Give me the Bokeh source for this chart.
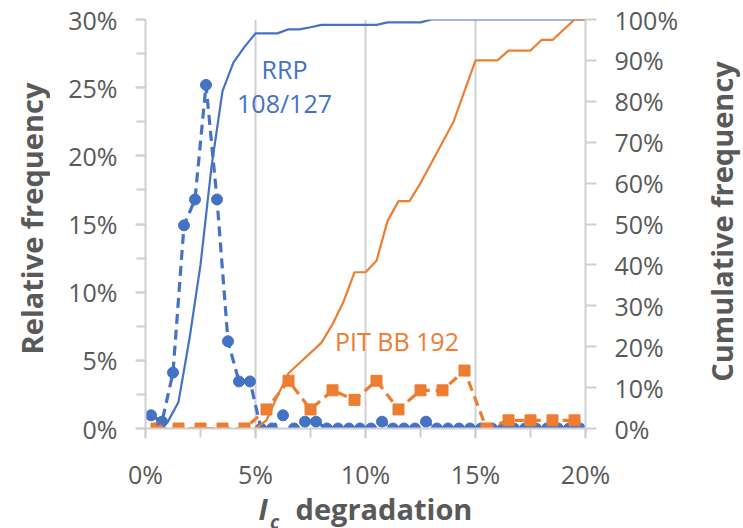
import math

from bokeh.plotting import figure
from bokeh.layouts import row, column
from bokeh.models import Range1d, LinearAxis, SingleIntervalTicker, PrintfTickFormatter
from bokeh.embed import file_html
from bokeh.resources import INLINE
from bokeh.core.properties import value

# ---- data (percent units) ----
# RRP: relative frequency per 0.5 % bin (bin centres)
rrp_x = [0.25, 0.75, 1.25, 1.75, 2.25, 2.75, 3.25, 3.75, 4.25, 4.75,
         5.25, 5.75, 6.25, 6.75, 7.25, 7.75, 8.25, 8.75, 9.25, 9.75,
         10.25, 10.75, 11.25, 11.75, 12.25, 12.75, 13.25, 13.75, 14.25, 14.75,
         15.25, 15.75, 16.25, 16.75, 17.25, 17.75, 18.25, 18.75, 19.25, 19.75]
rrp_freq = [0.97, 0.5, 4.1, 14.9, 16.8, 25.2, 16.8, 6.4, 3.45, 3.45,
            0, 0, 0.97, 0, 0.5, 0.5, 0, 0, 0, 0,
            0, 0.5, 0, 0, 0, 0.5, 0, 0, 0, 0,
            0, 0, 0, 0, 0, 0, 0, 0, 0, 0]

# RRP: cumulative frequency at bin edges
rrp_cum_x = [0.5, 1.0, 1.5, 2.0, 2.5, 3.0, 3.5, 4.0, 4.5, 5.0,
             5.5, 6.0, 6.5, 7.0, 7.5, 8.0, 8.5, 9.0, 9.5, 10.0,
             10.5, 11.0, 11.5, 12.0, 12.5, 13.0, 13.5, 14.0, 14.5, 15.0,
             15.5, 16.0, 16.5, 17.0, 17.5, 18.0, 18.5, 19.0, 19.5, 20.0]
rrp_cum = [1.0, 1.5, 6.5, 22.0, 40.0, 64.0, 82.5, 89.5, 93.3, 96.6,
           96.6, 96.6, 97.6, 97.6, 98.1, 98.7, 98.7, 98.7, 98.7, 98.7,
           98.7, 99.3, 99.3, 99.3, 99.3, 100, 100, 100, 100, 100,
           100, 100, 100, 100, 100, 100, 100, 100, 100, 100]

# PIT BB: relative frequency per 1 % bin
pit_x = [0.5, 1.5, 2.5, 3.5, 4.5, 5.5, 6.5, 7.5, 8.5, 9.5,
         10.5, 11.5, 12.5, 13.5, 14.5, 15.5, 16.5, 17.5, 18.5, 19.5]
pit_freq = [0, 0, 0, 0, 0, 1.4, 3.5, 1.4, 2.8, 2.1,
            3.5, 1.4, 2.8, 2.8, 4.25, 0, 0.6, 0.6, 0.6, 0.6]

# PIT BB: cumulative frequency
pit_cum_x = [5.0, 5.5, 6.0, 6.5, 7.0, 7.5, 8.0, 8.5, 9.0, 9.5,
             10.0, 10.5, 11.0, 11.5, 12.0, 12.5, 13.0, 13.5, 14.0, 14.5,
             15.0, 15.5, 16.0, 16.5, 17.0, 17.5, 18.0, 18.5, 19.0, 19.5, 20.0]
pit_cum = [0, 2.0, 8.0, 13.5, 16.0, 18.5, 21.0, 25.5, 31.0, 38.2,
           38.2, 41.0, 50.7, 55.6, 55.6, 60.0, 65.0, 70.0, 75.0, 82.5,
           90.0, 90.0, 90.0, 92.4, 92.4, 92.4, 95.0, 95.0, 97.5, 100, 100]

BLUE = "#4472C4"
ORANGE = "#ED7D31"
GREY_TXT = "#595959"
GREY_LINE = "#D0D0D0"
FONT = "Open Sans"
TITLE_SIZE = "29px"

TOTAL_W, TOTAL_H = 743, 528
LEFT_W, RIGHT_W, BOTTOM_H = 50, 43, 33
MAIN_W = TOTAL_W - LEFT_W - RIGHT_W
MAIN_H = TOTAL_H - BOTTOM_H


def blank(width, height, x_range):
    """A bare canvas without axes or title, used for the axis titles."""
    f = figure(width=width, height=height, output_backend="svg", toolbar_location=None,
               title=None, x_range=x_range, y_range=Range1d(0, height),
               x_axis_type=None, y_axis_type=None, min_border=0)
    f.grid.visible = False
    f.outline_line_color = None
    return f


# ---- main chart ----
p = figure(width=MAIN_W, height=MAIN_H, output_backend="svg", toolbar_location=None,
           title=None, x_range=Range1d(0, 20), y_range=Range1d(0, 30),
           min_border_left=95, min_border_right=115,
           min_border_top=19, min_border_bottom=67)
p.outline_line_color = None
p.extra_y_ranges = {"cum": Range1d(0, 100)}

xax = p.xaxis[0]
xax.ticker = SingleIntervalTicker(interval=5, num_minor_ticks=2)
yax = p.yaxis[0]
yax.ticker = SingleIntervalTicker(interval=5, num_minor_ticks=2)
rax = LinearAxis(y_range_name="cum",
                 ticker=SingleIntervalTicker(interval=10, num_minor_ticks=0))
p.add_layout(rax, "right")

for ax in (xax, yax, rax):
    ax.formatter = PrintfTickFormatter(format="%d%%")
    ax.axis_line_color = GREY_LINE
    ax.axis_line_width = 2
    ax.major_tick_line_color = GREY_LINE
    ax.major_tick_line_width = 2
    ax.minor_tick_line_color = GREY_LINE
    ax.minor_tick_line_width = 2
    ax.major_tick_in = 0
    ax.minor_tick_in = 0
    ax.major_tick_out = 10
    ax.minor_tick_out = 9
    ax.major_label_text_font = FONT
    ax.major_label_text_font_size = "25px"
    ax.major_label_text_color = GREY_TXT
    ax.major_label_standoff = 18
rax.minor_tick_out = 0
rax.major_tick_out = 11

p.xgrid.ticker = SingleIntervalTicker(interval=5)
p.xgrid.grid_line_color = GREY_LINE
p.xgrid.grid_line_width = 2
p.ygrid.grid_line_color = None

# relative frequency series
p.line(rrp_x, rrp_freq, line_color=BLUE, line_width=3.2, line_dash="10 6")
p.scatter(rrp_x, rrp_freq, marker="circle", size=11,
          fill_color=BLUE, line_color=BLUE)
p.line(pit_x, pit_freq, line_color=ORANGE, line_width=3.2, line_dash="10 6")
p.scatter(pit_x, pit_freq, marker="square", size=11,
          fill_color=ORANGE, line_color=ORANGE)

# cumulative series on the secondary axis
p.line(rrp_cum_x, rrp_cum, line_color=BLUE, line_width=2.2, y_range_name="cum")
p.line(pit_cum_x, pit_cum, line_color=ORANGE, line_width=2.2, y_range_name="cum")

# series annotations
p.text(x=[6.32, 6.32], y=[26.4, 23.85], text=["RRP", "108/127"],
       text_color=BLUE, text_font=value(FONT), text_font_size="25px",
       text_align="center", text_baseline="alphabetic")
p.text(x=[11.43], y=[6.4], text=["PIT BB 192"],
       text_color=ORANGE, text_font=value(FONT), text_font_size="25px",
       text_align="center", text_baseline="alphabetic")

# ---- axis titles ----
left = blank(LEFT_W, TOTAL_H, Range1d(0, LEFT_W))
left.text(x=[31], y=[310], text=["Relative frequency"], angle=math.pi / 2,
          text_align="center", text_baseline="middle",
          text_font=value(FONT), text_font_size=TITLE_SIZE,
          text_font_style="bold", text_color=GREY_TXT)

right = blank(RIGHT_W, TOTAL_H, Range1d(0, RIGHT_W))
right.text(x=[21], y=[307], text=["Cumulative frequency"], angle=math.pi / 2,
           text_align="center", text_baseline="middle",
           text_font=value(FONT), text_font_size=TITLE_SIZE,
           text_font_style="bold", text_color=GREY_TXT)

# the strip under the chart shares the chart's x scale (its frame lines up with it)
bottom = blank(MAIN_W, BOTTOM_H, Range1d(0, 20))
bottom.text(x=[5.14], y=[20], text=["I"], text_align="left",
            text_baseline="alphabetic", text_font=value(FONT),
            text_font_size=TITLE_SIZE, text_font_style="bold italic",
            text_color=GREY_TXT)
bottom.text(x=[5.66], y=[6.5], text=["c"], text_align="left",
            text_baseline="alphabetic", text_font=value(FONT),
            text_font_size="19px", text_font_style="bold italic",
            text_color=GREY_TXT)
bottom.text(x=[6.82], y=[20], text=["degradation"], text_align="left",
            text_baseline="alphabetic", text_font=value(FONT),
            text_font_size=TITLE_SIZE, text_font_style="bold",
            text_color=GREY_TXT)

layout = row(left, column(p, bottom), right)
open("out.html", "w").write(file_html(layout, INLINE))
